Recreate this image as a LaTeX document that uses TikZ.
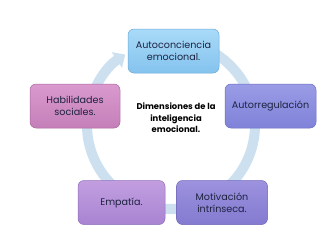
\documentclass[tikz,border=0pt]{standalone}
\usepackage{fontspec}
\setmainfont{Poppins}
\usetikzlibrary{positioning, arrows.meta}
\definecolor{ringColor}{HTML}{CDE0F0}
\definecolor{textMain}{HTML}{1E2340}
\definecolor{topTop}{HTML}{A9DAF8}
\definecolor{topBot}{HTML}{84C3EE}
\definecolor{topBorder}{HTML}{6AAAD8}
\definecolor{rightTop}{HTML}{9A9CE6}
\definecolor{rightBot}{HTML}{7F82D8}
\definecolor{rightBorder}{HTML}{6A6CC0}
\definecolor{motTop}{HTML}{9C92DE}
\definecolor{motBot}{HTML}{847AD0}
\definecolor{motBorder}{HTML}{6E64B8}
\definecolor{empTop}{HTML}{C29EE0}
\definecolor{empBot}{HTML}{A884D2}
\definecolor{empBorder}{HTML}{9070B8}
\definecolor{habTop}{HTML}{DA9ACE}
\definecolor{habBot}{HTML}{C47FB8}
\definecolor{habBorder}{HTML}{A8689E}
\tikzset{
  dimbox/.style={rounded corners=6pt, minimum width=91pt, minimum height=44pt,
    font=\fontsize{9.6}{12.5}\selectfont, text=textMain, line width=0.5pt,
    align=center, inner sep=2pt},
  ring/.style={line width=10pt, color=ringColor},
  centertext/.style={font=\fontsize{8.4}{11.4}\selectfont\bfseries, text=black, align=center},
}

\begin{document}
\begin{tikzpicture}[x=1pt, y=-1pt]
  \useasboundingbox[fill=white] (0,0) rectangle (336,231);

  % === Background ring with arrow ===
  \coordinate (hub) at (171,125);
  \draw[ring, -{Triangle[length=10pt, width=18pt]}]
    ([shift={(-80:84)}]hub) arc[start angle=-80, end angle=237, radius=84];

  % === Dimension boxes ===
  \node[dimbox, draw=topBorder, top color=topTop, bottom color=topBot]
    (auto) at (173.5,51) {Autoconciencia\\emocional.};
  \node[dimbox, draw=rightBorder, top color=rightTop, bottom color=rightBot]
    (regul) at (270.5,106) {Autorregulación};
  \node[dimbox, draw=motBorder, top color=motTop, bottom color=motBot]
    (motiv) at (222,202.5) {Motivación\\intrínseca.};
  \node[dimbox, draw=empBorder, top color=empTop, bottom color=empBot,
    minimum width=87pt] (empat) at (121.5,202.5) {Empatía.};
  \node[dimbox, draw=habBorder, top color=habTop, bottom color=habBot,
    minimum width=90pt] (habil) at (75,106) {Habilidades\\sociales.};

  % === Center title ===
  \node[centertext] (title) at (176,118) {Dimensiones de la\\inteligencia\\emocional.};

\end{tikzpicture}
\end{document}
